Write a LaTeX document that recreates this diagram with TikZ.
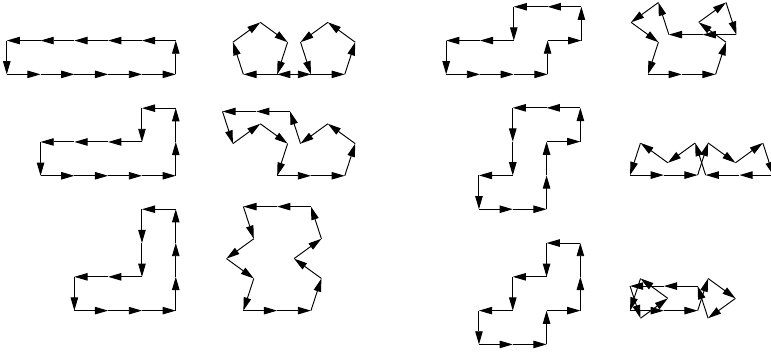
\documentclass[tikz,border=0pt]{standalone}
\usepackage{tikz}
\usetikzlibrary{arrows.meta,calc}

% closed walk of unit steps, one arrow per step
\newcommand{\polywalk}[3]{%
  \coordinate (#1-0) at (#2);
  \foreach \ang [count=\i, remember=\i as \j (initially 0)] in {#3}{%
    \coordinate (#1-\i) at ($(#1-\j)+(\ang:1)$);
    \draw[edge] (#1-\j) -- (#1-\i);
  }%
}

\begin{document}
\begin{tikzpicture}[
  edge/.style={-{Triangle[length=3.9mm,width=2.2mm]}, line width=0.8pt}
]
\useasboundingbox (0,0) rectangle (22.81,10.47);

% left column: lattice walks and their pentagonal images
\polywalk{lat1}{0.2,8.27}{0,0,0,0,0,90,180,180,180,180,180,270}
\polywalk{rot1}{9.2,8.27}{0,72,144,216,288,180,180,108,36,324,252,0}

\polywalk{lat2}{1.2,5.27}{0,0,0,0,90,90,180,270,180,180,180,270}
\polywalk{rot2}{9.2,5.27}{0,72,144,216,108,180,180,288,36,324,252,0}

\polywalk{lat3}{2.2,1.28}{0,0,0,90,90,90,180,270,270,180,180,270}
\polywalk{rot3}{8.2,1.28}{0,72,144,36,108,180,180,288,216,324,252,0}

% right column
\polywalk{lat4}{13.2,8.27}{0,0,0,90,0,90,180,180,270,180,180,270}
\polywalk{rot4}{20.17,8.27}{0,72,144,36,288,180,180,108,216,324,252,0}

\polywalk{lat5}{14.17,4.28}{0,0,90,90,0,90,180,180,270,270,180,270}
\polywalk{rot5}{19.64,5.29}{0,72,324,36,288,180,180,108,216,144,252,0}

\polywalk{lat6}{14.17,0.28}{0,0,90,0,90,90,180,270,180,270,180,270}
\polywalk{rot6}{19.64,1.28}{0,72,324,216,108,180,180,288,36,144,252,0}
\end{tikzpicture}
\end{document}
